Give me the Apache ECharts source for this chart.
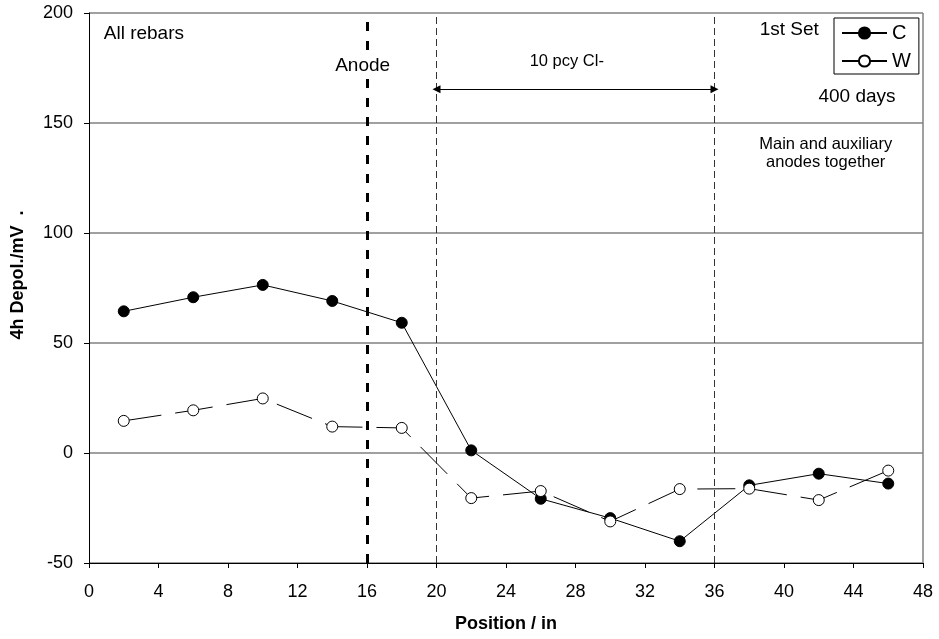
<!DOCTYPE html>
<html>
<head>
<meta charset="utf-8">
<script src="https://cdn.jsdelivr.net/npm/echarts@6/dist/echarts.min.js"></script>
<style>html,body{margin:0;padding:0;background:#fff}#c{width:939px;height:639px}</style>
</head>
<body>
<div id="c"></div>
<script>
const positions = [2, 6, 10, 14, 18, 22, 26, 30, 34, 38, 42, 46];
const cValues = [64.4, 70.8, 76.4, 69.1, 59.2, 1.2, -20.8, -29.6, -40.1, -14.7, -9.4, -13.9];
const wValues = [14.6, 19.4, 24.8, 12.0, 11.4, -20.5, -17.3, -31.1, -16.4, -16.2, -21.4, -8.0];
const xTicks = [0, 4, 8, 12, 16, 20, 24, 28, 32, 36, 40, 44, 48];
const yTicks = [-50, 0, 50, 100, 150, 200];
const anodeX = 16;
const zoneStart = 20;
const zoneEnd = 36;
const arrowY = 165.3;
const notes = [
  {text: 'All rebars', x: 0.85, y: 190.7, align: 'left', size: 19, bg: false},
  {text: 'Anode', x: 15.75, y: 176.2, align: 'center', size: 19, bg: true},
  {text: '10 pcy Cl-', x: 27.5, y: 178, align: 'center', size: 16.5, bg: false},
  {text: '1st Set', x: 40.3, y: 192.5, align: 'center', size: 19, bg: false},
  {text: '400 days', x: 44.2, y: 162, align: 'center', size: 19, bg: false},
  {text: 'Main and auxiliary\nanodes together', x: 42.4, y: 136, align: 'center', size: 16.5, bg: false}
];

const FONT = "'Liberation Sans', Arial, sans-serif";
const chart = echarts.init(document.getElementById('c'), null, {renderer: 'canvas'});

const option = {
  animation: false,
  backgroundColor: '#fff',
  textStyle: {fontFamily: FONT, color: '#000'},
  grid: {left: 89, right: 16, top: 13, bottom: 76, containLabel: false},
  legend: {
    data: [
      {name: 'C', lineStyle: {type: 'solid'}},
      {name: 'W', lineStyle: {type: 'solid'}}
    ],
    orient: 'vertical',
    left: 834,
    top: 18,
    itemWidth: 45,
    itemHeight: 14,
    itemGap: 8,
    padding: [5, 8, 3, 7],
    borderColor: '#000',
    borderWidth: 1,
    backgroundColor: '#fff',
    textStyle: {fontFamily: FONT, fontSize: 20, color: '#000', lineHeight: 20},
    selectedMode: false
  },
  xAxis: {
    type: 'value',
    min: xTicks[0],
    max: xTicks[xTicks.length - 1],
    interval: 4,
    name: 'Position / in',
    nameLocation: 'middle',
    nameGap: 52,
    nameTextStyle: {fontFamily: FONT, fontSize: 18, fontWeight: 'bold', color: '#000'},
    axisLine: {onZero: false, lineStyle: {color: '#000', width: 1}},
    axisTick: {show: true, inside: false, length: 5, lineStyle: {color: '#000'}},
    axisLabel: {fontFamily: FONT, fontSize: 18, color: '#000', margin: 20},
    splitLine: {show: false}
  },
  yAxis: {
    type: 'value',
    min: yTicks[0],
    max: yTicks[yTicks.length - 1],
    interval: 50,
    name: '4h Depol./mV  .',
    nameLocation: 'middle',
    nameGap: 62,
    nameTextStyle: {fontFamily: FONT, fontSize: 18, fontWeight: 'bold', color: '#000', padding: [0, 0, 0, 26]},
    axisLine: {show: true, onZero: false, lineStyle: {color: '#000', width: 1}},
    axisTick: {show: true, inside: false, length: 5, lineStyle: {color: '#000'}},
    axisLabel: {fontFamily: FONT, fontSize: 18, color: '#000', margin: 16},
    splitLine: {show: true, lineStyle: {color: '#808080', width: 1.5}}
  },
  series: [
    {
      name: 'guides',
      type: 'line',
      silent: true,
      data: [],
      markLine: {
        silent: true,
        symbol: 'none',
        label: {show: false},
        data: [
          {xAxis: anodeX, lineStyle: {color: '#000', width: 3, type: [9, 10]}},
          {xAxis: zoneStart, lineStyle: {color: '#333', width: 1, type: [7, 4]}},
          {xAxis: zoneEnd, lineStyle: {color: '#333', width: 1, type: [7, 4]}},
          {xAxis: xTicks[xTicks.length - 1], lineStyle: {color: '#808080', width: 1.5, type: 'solid'}}
        ]
      },
      z: 1
    },
    {
      name: 'arrow',
      type: 'line',
      silent: true,
      data: [],
      markLine: {
        silent: true,
        symbol: ['triangle', 'triangle'],
        symbolSize: 8,
        label: {show: false},
        lineStyle: {color: '#000', width: 1, type: 'solid'},
        data: [[{coord: [zoneStart, arrowY]}, {coord: [zoneEnd, arrowY]}]]
      },
      z: 1
    },
    {
      name: 'C',
      type: 'line',
      data: positions.map((p, i) => [p, cValues[i]]),
      symbol: 'circle',
      symbolSize: 11,
      itemStyle: {color: '#000', borderColor: '#000', borderWidth: 1},
      lineStyle: {color: '#000', width: 1},
      z: 3
    },
    {
      name: 'W',
      type: 'line',
      data: positions.map((p, i) => [p, wValues[i]]),
      symbol: 'circle',
      symbolSize: 11,
      itemStyle: {color: '#fff', borderColor: '#000', borderWidth: 1},
      lineStyle: {color: '#000', width: 1, type: [38, 14]},
      z: 4
    },
    {
      name: 'annotations',
      type: 'scatter',
      silent: true,
      symbolSize: 0,
      itemStyle: {opacity: 1},
      data: notes.map(n => ({
        value: [n.x, n.y],
        itemStyle: {opacity: 1},
        label: {
          show: true,
          position: 'inside',
          formatter: n.text,
          align: n.align,
          verticalAlign: 'middle',
          fontFamily: FONT,
          fontSize: n.size,
          lineHeight: 18,
          color: '#000',
          opacity: 1,
          textBorderWidth: 0,
          backgroundColor: n.bg ? '#fff' : 'transparent',
          padding: n.bg ? [2, 1] : 0
        }
      })),
      z: 6
    }
  ]
};
chart.setOption(option);
</script>
</body>
</html>
